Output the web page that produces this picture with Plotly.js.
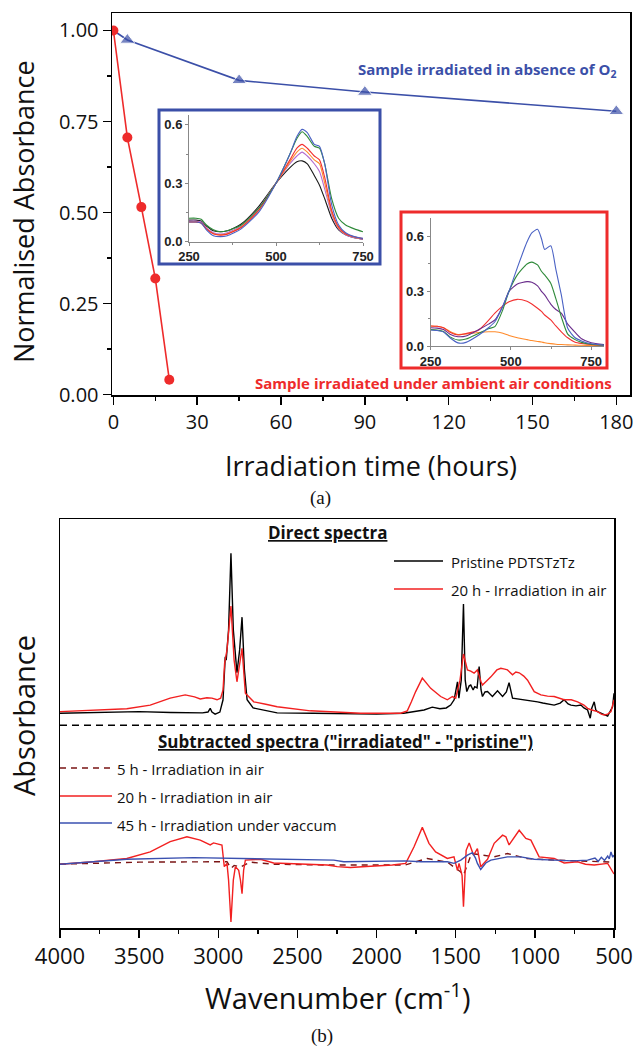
<!DOCTYPE html>
<html><head><meta charset="utf-8">
<script src="https://cdn.plot.ly/plotly-3.0.1.min.js"></script>
<style>html,body{margin:0;padding:0;background:#fff;} #chart{width:633px;height:1047px;}</style>
</head><body><div id="chart"></div>
<script>
// ---------- (a) main: normalised absorbance vs irradiation time ----------
const hoursVacuum = [0, 5, 45, 90, 180];
const normAbsVacuum = [1.0, 0.974, 0.863, 0.831, 0.778];
const hoursAir = [0, 5, 10, 15, 20];
const normAbsAir = [1.0, 0.706, 0.515, 0.319, 0.041];

// ---------- (a) inset 1: UV-vis spectra, irradiation in absence of O2 ----------
const insetVacNm = [250,270,285,300,320,340,360,400,450,500,540,560,575,590,610,625,640,660,680,700,725,750];
const insetVacBlack  = [0.11,0.11,0.105,0.08,0.055,0.05,0.055,0.09,0.18,0.30,0.38,0.41,0.415,0.40,0.34,0.29,0.22,0.12,0.06,0.035,0.02,0.012];
const insetVacPurple = [0.105,0.105,0.10,0.07,0.045,0.038,0.045,0.08,0.17,0.30,0.40,0.44,0.46,0.44,0.40,0.36,0.27,0.14,0.065,0.035,0.02,0.012];
const insetVacOrange = [0.10,0.10,0.095,0.065,0.04,0.035,0.04,0.075,0.16,0.30,0.41,0.46,0.48,0.46,0.42,0.40,0.30,0.15,0.07,0.038,0.022,0.014];
const insetVacRed    = [0.10,0.10,0.095,0.065,0.04,0.033,0.038,0.072,0.16,0.30,0.42,0.48,0.50,0.48,0.44,0.42,0.33,0.16,0.075,0.04,0.024,0.015];
const insetVacGreen  = [0.12,0.12,0.115,0.085,0.06,0.05,0.055,0.085,0.17,0.30,0.45,0.53,0.565,0.54,0.49,0.48,0.40,0.22,0.12,0.085,0.065,0.05];
const insetVacBlue   = [0.10,0.10,0.095,0.06,0.03,0.025,0.03,0.065,0.15,0.30,0.45,0.54,0.577,0.56,0.50,0.49,0.40,0.19,0.085,0.045,0.025,0.016];

// ---------- (a) inset 2: UV-vis spectra, irradiation in ambient air ----------
const insetAirNm = [250,270,290,310,335,360,400,430,450,475,494,520,550,565,583,595,605,624,640,657,677,700,720,750,790];
const insetAirBlue   = [0.088,0.085,0.077,0.045,0.017,0.02,0.06,0.10,0.133,0.22,0.30,0.43,0.57,0.62,0.64,0.59,0.53,0.55,0.42,0.28,0.097,0.045,0.028,0.012,0.004];
const insetAirGreen  = [0.09,0.088,0.08,0.05,0.033,0.038,0.07,0.095,0.106,0.20,0.30,0.39,0.45,0.46,0.445,0.41,0.39,0.344,0.26,0.16,0.065,0.035,0.02,0.01,0.004];
const insetAirPurple = [0.10,0.098,0.09,0.065,0.051,0.055,0.09,0.12,0.143,0.22,0.30,0.34,0.353,0.35,0.33,0.30,0.28,0.23,0.20,0.18,0.12,0.075,0.04,0.018,0.008];
const insetAirRed    = [0.11,0.108,0.10,0.075,0.06,0.068,0.088,0.14,0.18,0.22,0.243,0.256,0.245,0.23,0.207,0.19,0.17,0.143,0.11,0.078,0.045,0.021,0.014,0.008,0.004];
const insetAirOrange = [0.11,0.108,0.10,0.08,0.063,0.066,0.074,0.078,0.078,0.07,0.058,0.045,0.035,0.03,0.025,0.022,0.018,0.013,0.01,0.008,0.006,0.005,0.004,0.003,0.002];

// ---------- (b) FTIR: direct spectra (a.u., baseline ~0) ----------
const wnPristine = [4000,3700,3500,3300,3100,3065,3051,3040,3020,2990,2970,2956,2950,2935,2920,2905,2882,2865,2850,2835,2818,2780,2700,2628,2400,2000,1829,1780,1742,1700,1648,1600,1560,1532,1510,1489,1480,1465,1451,1440,1430,1415,1405,1390,1380,1365,1352,1340,1331,1315,1299,1268,1236,1204,1180,1163,1141,1089,1040,983,950,920,878,840,815,790,772,740,709,690,667,650,640,625,615,604,582,560,540,520,509,500];
const absPristine = [0,0.003,0.004,0.002,0.001,0.003,0.012,0.003,-0.002,0.003,0.033,0.138,0.130,0.204,0.391,0.204,0.099,0.155,0.235,0.106,0.033,0.013,0.006,0.001,0,-0.002,0,0.003,0.006,0.008,0.015,0.011,0.013,0.020,0.033,0.077,0.037,0.081,0.267,0.081,0.053,0.067,0.069,0.057,0.065,0.062,0.114,0.057,0.041,0.052,0.053,0.041,0.055,0.041,0.052,0.075,0.037,0.034,0.033,0.028,0.025,0.023,0.020,0.025,0.033,0.023,0.020,0.018,0.020,0.013,0.008,-0.012,0.013,0.028,0.008,0.004,0,-0.004,-0.007,0.008,0.016,0.049];
const wnAir20 = [4000,3800,3578,3430,3304,3209,3150,3114,3072,3040,3008,2985,2970,2960,2945,2920,2900,2882,2865,2850,2829,2776,2700,2628,2418,2101,1848,1806,1780,1753,1711,1690,1658,1595,1553,1521,1500,1473,1451,1426,1405,1384,1363,1340,1331,1300,1278,1240,1215,1190,1173,1141,1120,1099,1070,1046,1020,1004,962,920,878,815,770,730,690,667,640,604,580,562,540,519,500];
const absAir20 = [0.004,0.007,0.011,0.020,0.037,0.045,0.040,0.035,0.038,0.037,0.033,0.037,0.057,0.122,0.155,0.262,0.130,0.077,0.118,0.159,0.049,0.028,0.022,0.016,0.006,0,0,0.006,0.028,0.053,0.086,0.077,0.061,0.041,0.033,0.041,0.037,0.081,0.145,0.106,0.103,0.098,0.106,0.077,0.069,0.081,0.089,0.106,0.110,0.108,0.106,0.094,0.101,0.099,0.091,0.081,0.062,0.053,0.045,0.042,0.041,0.033,0.033,0.028,0.020,0.012,0.008,0.004,-0.002,-0.004,-0.002,0.004,0.033];

// ---------- (b) FTIR: subtracted spectra ("irradiated" - "pristine") ----------
const wnSub5 = [4000,3500,2990,2945,2920,2900,2860,2800,2650,2300,1820,1764,1680,1553,1468,1451,1400,1257,1173,1050,878,500];
const sub5 = [-0.005,0.000,0.001,0.001,-0.015,-0.008,-0.012,0.000,-0.005,-0.007,-0.007,0.000,0.009,0.000,-0.024,-0.032,0.021,0.013,0.021,0.009,0.005,0.000];
const wnSub20 = [4000,3789,3578,3430,3304,3198,3114,3051,3030,2977,2962,2945,2935,2920,2905,2892,2871,2860,2850,2840,2829,2734,2650,2312,2249,2165,2038,1900,1816,1764,1711,1669,1627,1553,1511,1489,1479,1460,1451,1442,1434,1415,1387,1363,1342,1299,1257,1204,1183,1163,1130,1099,1057,1025,973,878,815,730,680,625,540,508,500];
const sub20 = [-0.005,0.001,0.009,0.025,0.050,0.062,0.054,0.042,0.047,0.042,-0.011,-0.003,-0.044,-0.146,-0.044,-0.011,-0.020,-0.044,-0.077,-0.020,0.005,0.007,-0.002,-0.007,-0.011,-0.013,-0.010,-0.007,-0.003,0.037,0.085,0.046,0.025,0.009,0.013,-0.020,-0.003,-0.032,-0.109,-0.032,0.029,0.047,0.017,0.033,-0.011,0.007,0.046,0.066,0.062,0.042,0.059,0.078,0.058,0.054,0.013,0.009,-0.002,0.001,-0.005,-0.007,-0.003,-0.024,-0.029];
const wnSub45 = [4000,3578,3156,2734,2270,2207,1820,1722,1553,1511,1468,1426,1394,1375,1363,1342,1310,1278,1173,1089,1004,878,760,667,620,600,580,560,540,530,519,508,500];
const sub45 = [-0.005,0.007,0.011,0.009,0.005,0.001,0.003,0.001,0.001,-0.003,0.005,0.017,0.023,0.010,-0.003,-0.018,-0.002,0.005,0.013,0.013,0.007,0.005,0.003,0.005,0.010,0.002,0.012,0.004,0.015,0.008,0.025,0.012,0.017];

// vertical stacking of the two FTIR groups (a.u.)
const DIRECT_OFFSET = 0.525;
const SUB_OFFSET = 0.161;
const SEPARATOR_Y = 0.496;

// ---------- helpers ----------
const W = 633, H = 1047;
const px = x => x / W;
const py = y => 1 - y / H;
const shift = (arr, d) => arr.map(v => v + d);

const FONT = 'Open Sans, Noto Sans, sans-serif';
const BLUE = '#3b4fa8', RED = '#ee2b2b';

const traces = [];
// main (a)
traces.push({x: hoursVacuum, y: normAbsVacuum, xaxis:'x', yaxis:'y', mode:'lines+markers',
  line:{color:BLUE, width:1.6}, marker:{symbol:'triangle-up', size: hoursVacuum.map((h,i)=> i===0 ? 0 : 13), color:BLUE}});
traces.push({x: hoursAir, y: normAbsAir, xaxis:'x', yaxis:'y', mode:'lines+markers',
  line:{color:RED, width:1.6}, marker:{symbol:'circle', size:10, color:RED}});
// inset 1
[[insetVacBlack,'#1a1a1a'],[insetVacPurple,'#b36ccf'],[insetVacOrange,'#ff8a2a'],[insetVacRed,'#f23030'],[insetVacGreen,'#2f8a3a'],[insetVacBlue,'#4a62c4']]
 .forEach(([ys,c]) => traces.push({x: insetVacNm, y: ys, xaxis:'x3', yaxis:'y3', mode:'lines', line:{color:c, width:1.1, shape:'spline', smoothing:0.6}}));
// inset 2
[[insetAirOrange,'#ff8a2a'],[insetAirRed,'#f23030'],[insetAirPurple,'#6a2d8c'],[insetAirGreen,'#2f8a3a'],[insetAirBlue,'#4a62c4']]
 .forEach(([ys,c]) => traces.push({x: insetAirNm, y: ys, xaxis:'x4', yaxis:'y4', mode:'lines', line:{color:c, width:1.1, shape:'spline', smoothing:0.6}}));
// (b) direct
traces.push({x: wnPristine, y: shift(absPristine, DIRECT_OFFSET), xaxis:'x2', yaxis:'y2', mode:'lines', line:{color:'#000', width:1.4}});
traces.push({x: wnAir20, y: shift(absAir20, DIRECT_OFFSET), xaxis:'x2', yaxis:'y2', mode:'lines', line:{color:'#f22020', width:1.4}});
// (b) subtracted
traces.push({x: wnSub5, y: shift(sub5, SUB_OFFSET), xaxis:'x2', yaxis:'y2', mode:'lines', line:{color:'#7a1414', width:1.4, dash:'6px,5px'}});
traces.push({x: wnSub20, y: shift(sub20, SUB_OFFSET), xaxis:'x2', yaxis:'y2', mode:'lines', line:{color:'#f22020', width:1.4}});
traces.push({x: wnSub45, y: shift(sub45, SUB_OFFSET), xaxis:'x2', yaxis:'y2', mode:'lines', line:{color:'#3a50b0', width:1.4}});

const mainAxis = {showline:true, linecolor:'#000', linewidth:1.5, mirror:true, ticks:'outside', ticklen:8, tickwidth:1.5,
  tickcolor:'#000', showgrid:false, zeroline:false, ticklabeloverflow:'allow', tickfont:{family:FONT, size:20, color:'#111'}};
const insetAxis = {showline:true, linecolor:'#888', linewidth:1, ticks:'outside', ticklen:3, tickwidth:1, tickcolor:'#888',
  showgrid:false, zeroline:false, tickfont:{family:'Liberation Sans, Arial, sans-serif', size:13, color:'#222', weight:'bold'}};

function label(text, x, y, size, opts) {
  return Object.assign({text: text, xref:'paper', yref:'paper', x: px(x), y: py(y), xanchor:'center', yanchor:'middle',
    showarrow:false, font:{family:FONT, size:size, color:'#111'}}, opts || {});
}

const layout = {
  width: W, height: H, margin:{l:0,r:0,t:0,b:0}, showlegend:false,
  paper_bgcolor:'#fff', plot_bgcolor:'rgba(0,0,0,0)',
  xaxis: Object.assign({}, mainAxis, {domain:[px(112), px(630)], range:[-0.5, 184.9], tick0:0, dtick:30, anchor:'y',
    minor:{dtick:15, ticks:'outside', ticklen:4, tickwidth:1.5, tickcolor:'#000'}}),
  yaxis: Object.assign({}, mainAxis, {domain:[py(395), py(13)], range:[-0.001, 1.048], tick0:0, dtick:0.25, tickformat:'.2f', anchor:'x',
    minor:{dtick:0.125, ticks:'outside', ticklen:4, tickwidth:1.5, tickcolor:'#000'}}),
  xaxis2: Object.assign({}, mainAxis, {domain:[px(60), px(614)], range:[4000, 500], tick0:500, dtick:500, anchor:'y2',
    tickfont:{family:FONT, size:22, color:'#111'}, minor:{dtick:250, ticks:'outside', ticklen:4, tickwidth:1.5, tickcolor:'#000'}}),
  yaxis2: Object.assign({}, mainAxis, {domain:[py(928), py(519)], range:[0, 1], anchor:'x2', ticks:'', showticklabels:false}),
  xaxis3: Object.assign({}, insetAxis, {domain:[px(189), px(363)], range:[250, 750], tick0:250, dtick:250, anchor:'y3',
    minor:{dtick:125, ticks:'outside', ticklen:2, tickcolor:'#888'}}),
  yaxis3: Object.assign({}, insetAxis, {domain:[py(241.5), py(115.2)], range:[0, 0.65], tick0:0, dtick:0.3, tickformat:'.1f', anchor:'x3',
    minor:{dtick:0.15, ticks:'outside', ticklen:2, tickcolor:'#888'}}),
  xaxis4: Object.assign({}, insetAxis, {domain:[px(430.7), px(604)], range:[250, 790], tick0:250, dtick:250, anchor:'y4',
    minor:{dtick:125, ticks:'outside', ticklen:2, tickcolor:'#888'}}),
  yaxis4: Object.assign({}, insetAxis, {domain:[py(346), py(218.4)], range:[0, 0.70], tick0:0, dtick:0.3, tickformat:'.1f', anchor:'x4',
    minor:{dtick:0.15, ticks:'outside', ticklen:2, tickcolor:'#888'}}),
  shapes: [
    {type:'rect', xref:'paper', yref:'paper', x0:px(159), x1:px(380), y0:py(264), y1:py(110), line:{color:BLUE, width:3}, layer:'above'},
    {type:'rect', xref:'paper', yref:'paper', x0:px(401), x1:px(607), y0:py(368), y1:py(212), line:{color:RED, width:3}, layer:'above'},
    {type:'line', xref:'x2', yref:'y2', x0:4000, x1:500, y0:SEPARATOR_Y, y1:SEPARATOR_Y, line:{color:'#000', width:1.5, dash:'7px,5px'}},
    // legend samples
    {type:'line', xref:'paper', yref:'paper', x0:px(394), x1:px(443), y0:py(561), y1:py(561), line:{color:'#000', width:1.5}},
    {type:'line', xref:'paper', yref:'paper', x0:px(394), x1:px(443), y0:py(589), y1:py(589), line:{color:'#f22020', width:1.5}},
    {type:'line', xref:'paper', yref:'paper', x0:px(60), x1:px(112), y0:py(768), y1:py(768), line:{color:'#7a1414', width:1.5, dash:'6px,5px'}},
    {type:'line', xref:'paper', yref:'paper', x0:px(60), x1:px(112), y0:py(796), y1:py(796), line:{color:'#f22020', width:1.5}},
    {type:'line', xref:'paper', yref:'paper', x0:px(60), x1:px(112), y0:py(823), y1:py(823), line:{color:'#3a50b0', width:1.5}}
  ],
  annotations: [
    label('Normalised Absorbance', 23, 212, 27, {textangle:-90}),
    label('Irradiation time (hours)', 371, 465, 27),
    label('(a)', 320, 498, 19, {font:{family:'Liberation Serif, DejaVu Serif, serif', size:19, color:'#111'}}),
    label('Sample irradiated in absence of O<sub>2</sub>', 619, 70, 15, {xanchor:'right', font:{family:FONT, size:15, color:BLUE, weight:'bold'}}),
    label('Sample irradiated under ambient air conditions', 614, 383, 15, {xanchor:'right', font:{family:FONT, size:15, color:RED, weight:'bold'}}),
    label('Absorbance', 23, 716, 29, {textangle:-90}),
    label('Wavenumber (cm<sup>-1</sup>)', 337, 996, 29),
    label('(b)', 322, 1036, 19, {font:{family:'Liberation Serif, DejaVu Serif, serif', size:19, color:'#111'}}),
    label('<u>Direct spectra</u>', 328, 533, 17, {font:{family:FONT, size:17, color:'#111', weight:'bold'}}),
    label('<u>Subtracted spectra ("irradiated" - "pristine")</u>', 345, 741, 17, {font:{family:FONT, size:17, color:'#111', weight:'bold'}}),
    label('Pristine PDTSTzTz', 449, 562, 15, {xanchor:'left'}),
    label('20 h - Irradiation in air', 449, 590, 15, {xanchor:'left'}),
    label('5 h - Irradiation in air', 115, 769, 15, {xanchor:'left'}),
    label('20 h - Irradiation in air', 115, 797, 15, {xanchor:'left'}),
    label('45 h - Irradiation under vaccum', 115, 825, 15, {xanchor:'left'})
  ]
};

Plotly.newPlot('chart', traces, layout, {staticPlot:true, displayModeBar:false});
</script>
</body></html>
